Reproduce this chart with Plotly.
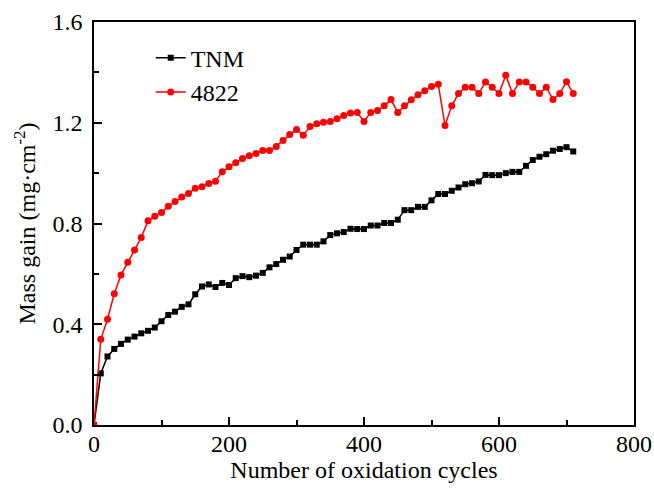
import plotly.graph_objects as go

cycles = [0, 10, 20, 30, 40, 50, 60, 70, 80, 90, 100, 110, 120, 130, 140, 150, 160, 170,
          180, 190, 200, 210, 220, 230, 240, 250, 260, 270, 280, 290, 300, 310, 320, 330,
          340, 350, 360, 370, 380, 390, 400, 410, 420, 430, 440, 450, 460, 470, 480, 490,
          500, 510, 520, 530, 540, 550, 560, 570, 580, 590, 600, 610, 620, 630, 640, 650,
          660, 670, 680, 690, 700, 710]

tnm = [0.0, 0.205, 0.272, 0.302, 0.322, 0.339, 0.351, 0.364, 0.374, 0.387, 0.412, 0.437,
       0.450, 0.469, 0.479, 0.519, 0.550, 0.558, 0.548, 0.564, 0.556, 0.583, 0.591, 0.587,
       0.593, 0.604, 0.626, 0.639, 0.656, 0.669, 0.695, 0.716, 0.716, 0.716, 0.729, 0.754,
       0.761, 0.766, 0.779, 0.778, 0.778, 0.792, 0.792, 0.802, 0.802, 0.815, 0.853, 0.853,
       0.866, 0.866, 0.892, 0.917, 0.917, 0.930, 0.943, 0.956, 0.960, 0.967, 0.993, 0.992,
       0.992, 1.000, 1.005, 1.005, 1.029, 1.052, 1.065, 1.075, 1.089, 1.096, 1.103, 1.086]

a4822 = [0.0, 0.340, 0.420, 0.521, 0.596, 0.646, 0.695, 0.744, 0.811, 0.829, 0.844, 0.868,
         0.887, 0.905, 0.919, 0.940, 0.946, 0.959, 0.968, 1.005, 1.025, 1.041, 1.058, 1.069,
         1.078, 1.090, 1.090, 1.106, 1.130, 1.153, 1.173, 1.150, 1.185, 1.196, 1.202, 1.205,
         1.216, 1.229, 1.239, 1.241, 1.205, 1.241, 1.249, 1.267, 1.292, 1.241, 1.267, 1.291,
         1.311, 1.327, 1.344, 1.353, 1.189, 1.267, 1.316, 1.341, 1.341, 1.316, 1.362, 1.341,
         1.316, 1.389, 1.316, 1.362, 1.362, 1.341, 1.316, 1.341, 1.292, 1.316, 1.363, 1.316]

series_names = ["TNM", "4822"]
x_ticks = [0, 200, 400, 600, 800]
y_ticks = [0.0, 0.4, 0.8, 1.2, 1.6]

FONT = "Liberation Serif, Times New Roman, serif"

fig = go.Figure()
fig.add_trace(go.Scatter(
    x=cycles, y=tnm, name=series_names[0], mode="lines+markers",
    line=dict(color="black", width=1.5),
    marker=dict(symbol="square", size=6, color="black"),
))
fig.add_trace(go.Scatter(
    x=cycles, y=a4822, name=series_names[1], mode="lines+markers",
    line=dict(color="#ff0000", width=1.5),
    marker=dict(symbol="circle", size=7, color="#ff0000"),
))

axis_common = dict(
    showline=True, linecolor="black", linewidth=1.5, mirror=True,
    ticks="inside", ticklen=8, tickwidth=1.5, tickcolor="black",
    showgrid=False, zeroline=False, automargin=False,
    tickfont=dict(family=FONT, size=24, color="black"),
)

fig.update_xaxes(
    range=[0, 800], tickvals=x_ticks, ticklabelstandoff=-4,
    minor=dict(dtick=100, ticks="inside", ticklen=5, tickwidth=1.5, tickcolor="black", showgrid=False),
    title=dict(text="Number of oxidation cycles", font=dict(family=FONT, size=24, color="black"), standoff=0),
    **axis_common,
)
fig.update_yaxes(
    range=[0, 1.6], tickvals=y_ticks, tickformat=".1f", ticklabelstandoff=5,
    minor=dict(dtick=0.2, ticks="inside", ticklen=5, tickwidth=1.5, tickcolor="black", showgrid=False),
    title=dict(text="Mass gain (mg·cm<sup>-2</sup>)", font=dict(family=FONT, size=24, color="black"), standoff=10),
    **axis_common,
)

fig.update_layout(
    width=654, height=491,
    margin=dict(l=94, r=20, t=22, b=66),
    paper_bgcolor="white", plot_bgcolor="white",
    font=dict(family=FONT, size=24, color="black"),
    legend=dict(x=0.105, y=0.966, xanchor="left", yanchor="top",
                bgcolor="rgba(0,0,0,0)", font=dict(family=FONT, size=24, color="black"),
                itemwidth=30, tracegroupgap=0),
    showlegend=True,
)

fig.write_html("out.html")
